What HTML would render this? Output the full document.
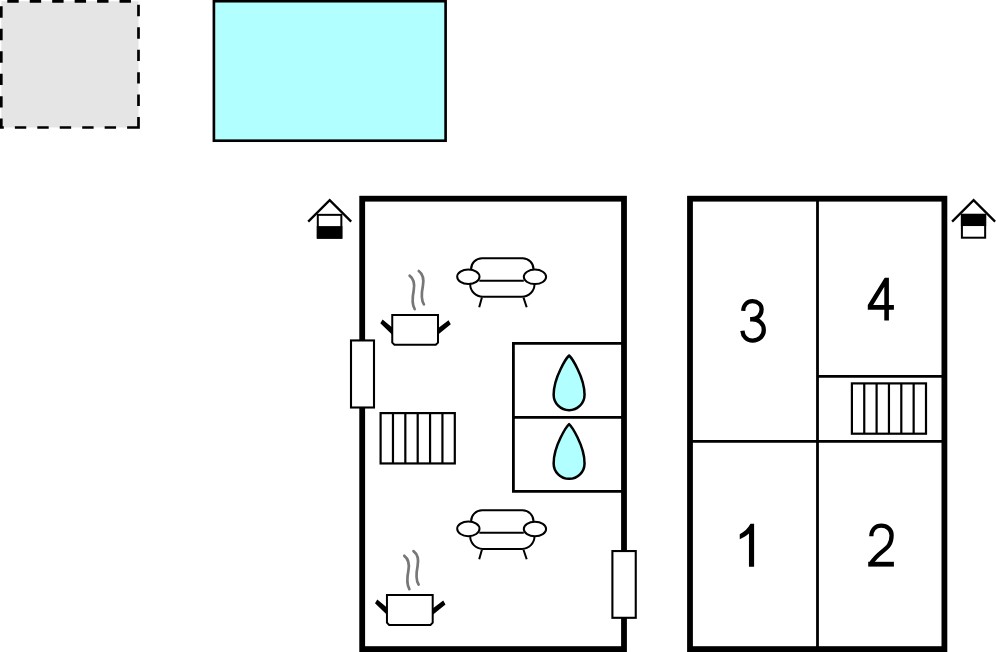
<!DOCTYPE html>
<html><head><meta charset="utf-8"><title>Floor plan</title>
<style>
html,body{margin:0;padding:0;background:#fff;width:996px;height:652px;overflow:hidden;font-family:"Liberation Sans",sans-serif}
svg{position:absolute;left:0;top:0;display:block}
</style></head>
<body>
<svg width="996" height="652" viewBox="0 0 996 652">
<!-- dashed grey area -->
<path d="M138.5,127.5 H1.3 V1.3 H138.5 Z" fill="#e5e5e5" stroke="#000" stroke-width="2.7" stroke-dasharray="11.4 11.05"/>
<!-- cyan pool -->
<rect x="213.9" y="1.2" width="231.7" height="139.5" fill="#b2ffff" stroke="#000" stroke-width="2.65"/>

<!-- LEFT BUILDING -->
<g fill="none" stroke="#000">
  <!-- water box -->
  <path d="M624,343.4 H513.4 V491.4 H624 M513.4,417.3 H624" stroke-width="2.8"/>
  <!-- outer walls -->
  <rect x="362.2" y="198.7" width="261.8" height="450.4" stroke-width="5.8"/>
</g>
<!-- windows -->
<rect x="351" y="340.45" width="23" height="67.05" fill="#fff" stroke="#000" stroke-width="2.1"/>
<rect x="612.4" y="551.05" width="23.35" height="66.75" fill="#fff" stroke="#000" stroke-width="2.1"/>

<!-- staircase left -->
<g fill="none" stroke="#000" stroke-width="2.2">
  <rect x="380.6" y="413.1" width="74.2" height="50.35"/>
  <path d="M392.97,413.1 V463.45 M405.33,413.1 V463.45 M417.7,413.1 V463.45 M430.07,413.1 V463.45 M442.43,413.1 V463.45"/>
</g>

<!-- sofas -->
<g id="sofa" fill="none" stroke="#000" stroke-width="2">
  <path d="M471.1,269.6 A11 11 0 0 1 482.1,258.2 H522.4 A11 11 0 0 1 533.5,269.6"/>
  <path d="M479.3,280.75 H523.8"/>
  <path d="M470.2,284 A12.6 12.6 0 0 0 482.8,296.8 H521.9 A12.6 12.6 0 0 0 534.5,284"/>
  <ellipse cx="468.35" cy="276.75" rx="11.15" ry="7.3"/>
  <ellipse cx="534.95" cy="276.85" rx="11.15" ry="7.25"/>
  <path d="M481.9,297.6 L479.2,307.2 M523.5,297.6 L526.7,307.2"/>
</g>
<use href="#sofa" transform="translate(0,252.1)"/>

<!-- pots -->
<g id="pot">
  <path d="M382.6,319.5 L394,328.9 L394,336.5 L380.3,323.2 Z M436,329.8 L448.5,320.3 L450.8,324.3 L436,336.3 Z" fill="#000"/>
  <path d="M392.25,315 H438 V342.6 L435.8,344.8 H394.45 L392.25,342.6 Z" fill="#fff" stroke="#000" stroke-width="2"/>
  <path id="steam" d="M409.6,275.7 C414,279 414.9,284 413.7,290.5 C412.5,296.5 411.2,303.5 414.7,309.1" stroke="#777" stroke-width="2.7" stroke-linecap="round" fill="none"/>
  <use href="#steam" transform="translate(9.2,-4.7)"/>
</g>
<use href="#pot" transform="translate(-5.3,280.1)"/>

<!-- drops -->
<g id="drop">
  <path d="M569.1,355.55 C571.35,357.55 584.55,376.8 584.55,394.8 A15.45 15.45 0 0 1 553.65,394.8 C553.65,376.8 566.85,357.55 569.1,355.55 Z" fill="#b2ffff" stroke="#000" stroke-width="2.5" stroke-linejoin="round"/>
</g>
<use href="#drop" transform="translate(0,68.6)"/>

<!-- house icons -->
<g id="house">
  <path d="M308.2,221.6 L329.7,200.1 L351.2,221.6" fill="none" stroke="#000" stroke-width="2.3"/>
  <rect x="317.8" y="214.85" width="23.55" height="22.85" fill="#fff" stroke="#000" stroke-width="2"/>
  <rect x="316.8" y="226.1" width="25.55" height="12.6" fill="#000"/>
</g>
<g>
  <path d="M952.1,221.6 L973.6,200.1 L995.1,221.6" fill="none" stroke="#000" stroke-width="2.3"/>
  <rect x="961.9" y="214.85" width="23.25" height="22.85" fill="#fff" stroke="#000" stroke-width="2"/>
  <rect x="960.9" y="213.85" width="25.25" height="12.2" fill="#000"/>
</g>

<!-- RIGHT BUILDING -->
<g fill="none" stroke="#000">
  <path d="M817.5,198.7 V649.1 M690,441.3 H944.4 M817.5,376.4 H944.4" stroke-width="2.8"/>
  <rect x="690" y="198.7" width="254.4" height="450.4" stroke-width="5.8"/>
</g>
<!-- staircase right -->
<g fill="none" stroke="#000" stroke-width="2.2">
  <rect x="851.9" y="383.4" width="74.1" height="50.3"/>
  <path d="M864.25,383.4 V433.7 M876.6,383.4 V433.7 M888.95,383.4 V433.7 M901.3,383.4 V433.7 M913.65,383.4 V433.7"/>
</g>

<!-- room numbers -->
<g fill="#000">
  <!-- 1 -->
  <path d="M739.75,534.2 C744,532.2 748,528.4 750.5,523.8 L754.1,523.8 L754.1,566.8 L748.95,566.8 L748.95,533.4 C746.2,535.8 743,537.6 739.75,539.2 Z"/>
  <rect x="868.2" y="561.8" width="25.7" height="4.8"/>
  <!-- 4 -->
  <path fill-rule="evenodd" d="M884.7,277.7 L888.9,277.7 L888.9,305.1 L893.9,305.1 L893.9,309.7 L888.9,309.7 L888.9,320.4 L884.3,320.4 L884.3,309.7 L867.8,309.7 L867.8,305.1 Z M884.3,286.7 L884.3,305.1 L873.2,305.1 Z"/>
</g>
<g fill="none" stroke="#000" stroke-width="4.3">
  <!-- 3 -->
  <path d="M743.2,310.8 C743.6,304.8 747.4,301.2 752.5,301.2 C757.8,301.2 761.6,304.6 761.6,309.3 C761.6,315.4 757.2,319.25 751.6,319.25 H750.1 M750.1,319.25 H752.3 C758.6,319.25 763.8,323.6 763.8,330 C763.8,336.4 758.7,340.55 752.6,340.55 C746.6,340.55 742.9,336.4 742.4,330.7"/>
  <!-- 2 -->
  <path d="M871.3,536.2 C871.5,529.6 875.6,525.6 881.3,525.6 C887.2,525.6 891.6,529.6 891.6,535.3 C891.6,550.3 880,549 870.7,564"/>
</g>
</svg>
</body></html>
